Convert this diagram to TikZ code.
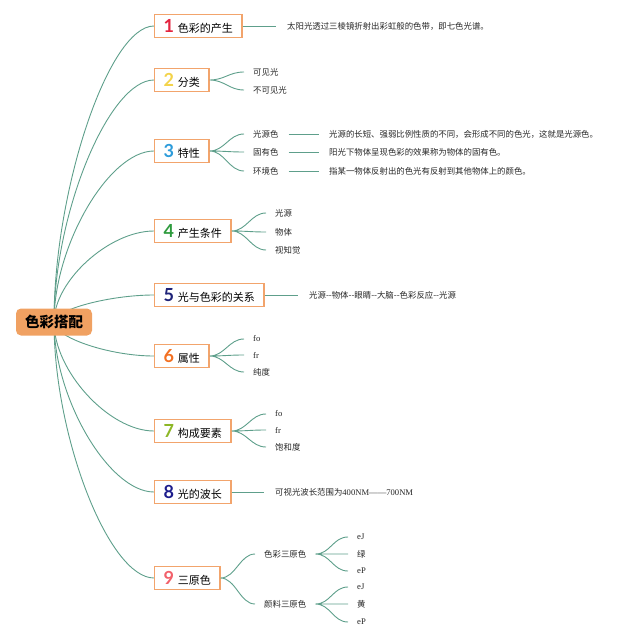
\documentclass[tikz,border=0pt]{standalone}
\usepackage{fontspec}
\setmainfont{Liberation Serif}
\newfontfamily\cjk{Noto Sans CJK SC}
\newfontfamily\numfont{Lato}
\usepackage{xcolor}
\usepackage{tikz}
\usetikzlibrary{positioning, calc, backgrounds}

\definecolor{xian}{HTML}{5E9F8B}
\definecolor{kuangc}{HTML}{F2A46C}
\definecolor{zhuc}{HTML}{F0A162}
\definecolor{hA}{HTML}{E4243F}
\definecolor{hB}{HTML}{F3D34A}
\definecolor{hC}{HTML}{2D9CDB}
\definecolor{hD}{HTML}{2E9B3E}
\definecolor{hE}{HTML}{1E2378}
\definecolor{hF}{HTML}{F37021}
\definecolor{hG}{HTML}{8DB726}
\definecolor{hH}{HTML}{1C1C8C}
\definecolor{hI}{HTML}{F2606A}

\newcommand\hao[2]{{\numfont\bfseries\fontsize{18}{18}\selectfont\color{#1}#2}\hspace{4pt}}

\begin{document}
\begin{tikzpicture}[
  x=1pt, y=-1pt,
  zhu/.style={fill=zhuc, rounded corners=5pt, font=\cjk\bfseries\fontsize{14.5}{16}\selectfont,
              minimum width=76pt, minimum height=27pt, inner sep=2pt},
  kuang/.style={draw=kuangc, line width=1.1pt, fill=white, anchor=west,
                font=\cjk\fontsize{11}{13}\selectfont, minimum height=23pt,
                inner xsep=9pt, inner ysep=1pt},
  ye/.style={anchor=west, inner sep=1pt, text=black!85, font=\cjk\fontsize{8.4}{10}\selectfont},
  yw/.style={ye, font=\fontsize{8.6}{10}\selectfont},
  zhi/.style={draw=xian, line width=0.9pt},
  gan/.style={zhi, to path={.. controls ($(\tikztostart)!0.45!(\tikztostart |- \tikztotarget)$)
              and ($(\tikztotarget)!0.45!(\tikztostart |- \tikztotarget)$) .. (\tikztotarget)}},
  cha/.style={zhi, to path={($(\tikztostart)+(#1,0)$) .. controls +(15,0) and +(-15,0)
              .. ($(\tikztotarget)+(-8,0)$)}},
  cha/.default=0
]
  \useasboundingbox (0,0) rectangle (640,644);

  % centre
  \node[zhu] (root) at (54,322) {色彩搭配};

  % main branches
  \node[kuang] (b1) at (154,26) {\hao{hA}{1}色彩的产生};
  \node[kuang] (b2) at (154,80) {\hao{hB}{2}分类};
  \node[kuang] (b3) at (154,151) {\hao{hC}{3}特性};
  \node[kuang] (b4) at (154,231) {\hao{hD}{4}产生条件};
  \node[kuang] (b5) at (154,295) {\hao{hE}{5}光与色彩的关系};
  \node[kuang] (b6) at (154,356) {\hao{hF}{6}属性};
  \node[kuang] (b7) at (154,431) {\hao{hG}{7}构成要素};
  \node[kuang] (b8) at (154,492) {\hao{hH}{8}光的波长};
  \node[kuang] (b9) at (154,578) {\hao{hI}{9}三原色};

  \begin{scope}[on background layer]
    \foreach \i in {1,...,9}
      \draw[gan] (root.center) to (b\i.west);
  \end{scope}

  % 1
  \node[ye] (t1) at (286,26) {太阳光透过三棱镜折射出彩虹般的色带，即七色光谱。};
  \draw[zhi, shorten >=10pt] (b1.east) -- (t1.west);

  % 2
  \node[ye] (c21) at (252,72) {可见光};
  \node[ye] (c22) at (252,90) {不可见光};
  \draw[cha] (b2.east) to (c21.west) (b2.east) to (c22.west);

  % 3
  \node[ye] (c31) at (252,134) {光源色};
  \node[ye] (c32) at (252,152) {固有色};
  \node[ye] (c33) at (252,171) {环境色};
  \node[ye] (d31) at (328,134) {光源的长短、强弱比例性质的不同，会形成不同的色光，这就是光源色。};
  \node[ye] (d32) at (328,152) {阳光下物体呈现色彩的效果称为物体的固有色。};
  \node[ye] (d33) at (328,171) {指某一物体反射出的色光有反射到其他物体上的颜色。};
  \draw[cha] (b3.east) to (c31.west) (b3.east) to (c32.west) (b3.east) to (c33.west);
  \draw[zhi, shorten <=9pt, shorten >=9pt] (c31.east) -- (d31.west);
  \draw[zhi, shorten <=9pt, shorten >=9pt] (c32.east) -- (d32.west);
  \draw[zhi, shorten <=9pt, shorten >=9pt] (c33.east) -- (d33.west);

  % 4
  \node[ye] (c41) at (274,213) {光源};
  \node[ye] (c42) at (274,232) {物体};
  \node[ye] (c43) at (274,250) {视知觉};
  \draw[cha] (b4.east) to (c41.west) (b4.east) to (c42.west) (b4.east) to (c43.west);

  % 5
  \node[ye] (t5) at (308,295) {光源--物体--眼睛--大脑--色彩反应--光源};
  \draw[zhi, shorten >=10pt] (b5.east) -- (t5.west);

  % 6
  \node[yw] (c61) at (252,339) {fo};
  \node[yw] (c62) at (252,355) {fr};
  \node[ye] (c63) at (252,372) {纯度};
  \draw[cha] (b6.east) to (c61.west) (b6.east) to (c62.west) (b6.east) to (c63.west);

  % 7
  \node[yw] (c71) at (274,414) {fo};
  \node[yw] (c72) at (274,430) {fr};
  \node[ye] (c73) at (274,447) {饱和度};
  \draw[cha] (b7.east) to (c71.west) (b7.east) to (c72.west) (b7.east) to (c73.west);

  % 8
  \node[ye] (t8) at (274,492) {可视光波长范围为{\rmfamily\fontsize{8.6}{10}\selectfont 400NM——700NM}};
  \draw[zhi, shorten >=10pt] (b8.east) -- (t8.west);

  % 9
  \node[ye] (c91) at (263,554) {色彩三原色};
  \node[ye] (c92) at (263,604) {颜料三原色};
  \draw[cha] (b9.east) to (c91.west) (b9.east) to (c92.west);
  \node[yw] (e1) at (356,537) {eJ};
  \node[ye] (e2) at (356,554) {绿};
  \node[yw] (e3) at (356,571) {eP};
  \node[yw] (e4) at (356,587) {eJ};
  \node[ye] (e5) at (356,604) {黄};
  \node[yw] (e6) at (356,622) {eP};
  \draw[cha=8] (c91.east) to (e1.west) (c91.east) to (e2.west) (c91.east) to (e3.west);
  \draw[cha=8] (c92.east) to (e4.west) (c92.east) to (e5.west) (c92.east) to (e6.west);
\end{tikzpicture}
\end{document}
